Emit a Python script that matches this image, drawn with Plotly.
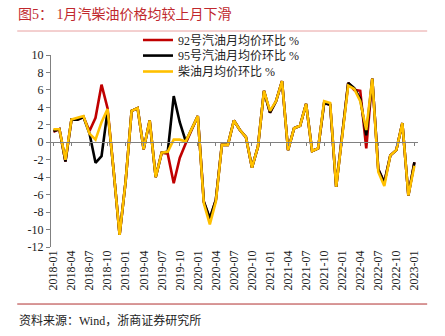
import plotly.graph_objects as go

# Monthly categories 2018-01 .. 2023-01
months = [f"{y}-{m:02d}" for y in range(2018, 2024) for m in range(1, 13)][:61]

# Month-on-month change of average price, %
gas92 = [1.2, 1.5, -2.2, 2.6, 2.6, 2.9, 1.3, 2.8, 6.6, 3.9,
         -3.2, -10.6, -4.5, 3.6, 3.9, -0.8, 2.5, -4.0, -1.2, -1.3,
         -4.7, -1.8, -0.1, 1.5, 3.0, -6.8, -8.8, -6.6, -0.3, -0.3,
         2.5, 1.4, 0.6, -2.9, -0.5, 5.9, 3.4, 4.7, 7.0, -0.9,
         1.6, 1.9, 4.4, -1.0, -0.7, 4.5, 4.3, -5.1, 0.6, 6.8,
         6.0, 5.9, -0.7, 7.3, -3.1, -4.6, -1.5, -0.9, 2.2, -6.1,
         -2.3]
gas95 = [1.3, 1.5, -2.2, 2.6, 2.6, 2.9, 1.0, -2.35, -1.6, 3.6,
         -3.2, -10.6, -4.5, 3.6, 3.9, -0.8, 2.5, -4.0, -1.2, -1.1,
         5.3, 2.3, 0.1, 1.5, 3.0, -6.8, -8.7, -6.6, -0.3, -0.3,
         2.5, 1.4, 0.6, -2.9, -0.5, 5.9, 3.4, 4.7, 7.0, -0.9,
         1.6, 1.9, 4.4, -1.0, -0.7, 4.5, 4.3, -5.1, 0.6, 6.8,
         6.2, 5.0, 0.8, 7.3, -3.1, -4.6, -1.5, -0.9, 2.2, -6.1,
         -2.3]
diesel = [1.5, 1.5, -2.0, 2.6, 2.8, 3.0, 1.0, 0.3, 2.3, 3.8,
          -3.2, -10.6, -4.5, 3.6, 3.9, -0.8, 2.5, -4.0, -1.2, -1.1,
          0.3, 0.3, 0.1, 1.5, 3.0, -7.0, -9.4, -6.8, -0.3, -0.3,
          2.5, 1.4, 0.6, -2.9, -0.5, 5.9, 3.6, 4.7, 7.0, -0.9,
          1.6, 1.9, 4.4, -1.0, -0.7, 4.7, 4.5, -5.1, 0.6, 6.5,
          6.1, 4.7, 1.4, 7.3, -3.4, -5.0, -1.5, -0.9, 2.2, -6.1,
          -2.7]

series_names = ["92号汽油月均价环比 %", "95号汽油月均价环比 %", "柴油月均价环比 %"]
series_colors = ["#C00000", "#000000", "#FFC000"]
legend_ids = ["legend", "legend2", "legend3"]

y_ticks = list(range(-12, 11, 2))
y_ticktext = [str(v) for v in y_ticks]
x_idx = list(range(len(months)))
x_tickvals = x_idx[::3]
x_ticktext = months[::3]

FONT = "Liberation Serif, Noto Sans CJK SC, serif"
AXIS_GREY = "#808080"

fig = go.Figure()
for name, vals, col, lg in zip(series_names, [gas92, gas95, diesel],
                               series_colors, legend_ids):
    fig.add_trace(go.Scatter(x=x_idx, y=vals, mode="lines", name=name,
                             legend=lg, line=dict(color=col, width=2.6)))

# carrier trace for the axis drawn along y = 0
fig.add_trace(go.Scatter(x=x_idx, y=[None] * len(x_idx), xaxis="x2",
                         showlegend=False, hoverinfo="skip", mode="lines"))

y_min, y_max = -12, 10
x_range = [-0.4, 60.6]


def legend_box(y_center):
    return dict(x=0.237, y=y_center, xanchor="left", yanchor="middle",
                bgcolor="rgba(0,0,0,0)", font=dict(size=12, family=FONT),
                itemwidth=30)


fig.update_layout(
    width=445, height=336,
    margin=dict(l=51, r=27, t=55, b=89),
    paper_bgcolor="white", plot_bgcolor="white",
    font=dict(family=FONT, size=12, color="#222222"),
    showlegend=True,
    legend=legend_box(1.078),
    legend2=legend_box(0.997),
    legend3=legend_box(0.914),
    title=dict(text="图5： 1月汽柴油价格均较上月下滑",
               x=18 / 445, xanchor="left", xref="container",
               y=1 - 14 / 336, yanchor="middle", yref="container",
               font=dict(family=FONT, size=14, color="#C0282D")),
    xaxis=dict(range=x_range, tickvals=x_tickvals, ticktext=x_ticktext,
               tickangle=-90, ticks="", showline=False, showgrid=False,
               zeroline=False, tickfont=dict(size=12, family=FONT)),
    xaxis2=dict(range=x_range, overlaying="x", anchor="free",
                position=(0 - y_min) / (y_max - y_min),
                tickvals=x_tickvals, ticks="outside", ticklen=3,
                tickcolor=AXIS_GREY, showline=True, linecolor=AXIS_GREY,
                linewidth=1.3, showticklabels=False, showgrid=False,
                zeroline=False),
    yaxis=dict(range=[y_min, y_max], tickvals=y_ticks, ticktext=y_ticktext,
               ticks="outside", ticklen=4, tickcolor=AXIS_GREY,
               showline=True, linecolor=AXIS_GREY, linewidth=1.3,
               showgrid=False, zeroline=False,
               tickfont=dict(size=12, family=FONT)),
)

# rules above the chart and above the source note
fig.add_shape(type="line", xref="paper", yref="paper",
              x0=-0.092, x1=1.025, y0=1.125, y1=1.125,
              line=dict(color="#E8A0A0", width=1))
fig.add_shape(type="line", xref="paper", yref="paper",
              x0=-0.092, x1=1.025, y0=-0.297, y1=-0.297,
              line=dict(color="#B03030", width=1))
fig.add_annotation(text="资料来源：Wind，浙商证券研究所", xref="paper", yref="paper",
                   x=-0.092, y=-0.385, xanchor="left", yanchor="middle",
                   showarrow=False, font=dict(family=FONT, size=12, color="#222222"))

fig.write_html("out.html")
